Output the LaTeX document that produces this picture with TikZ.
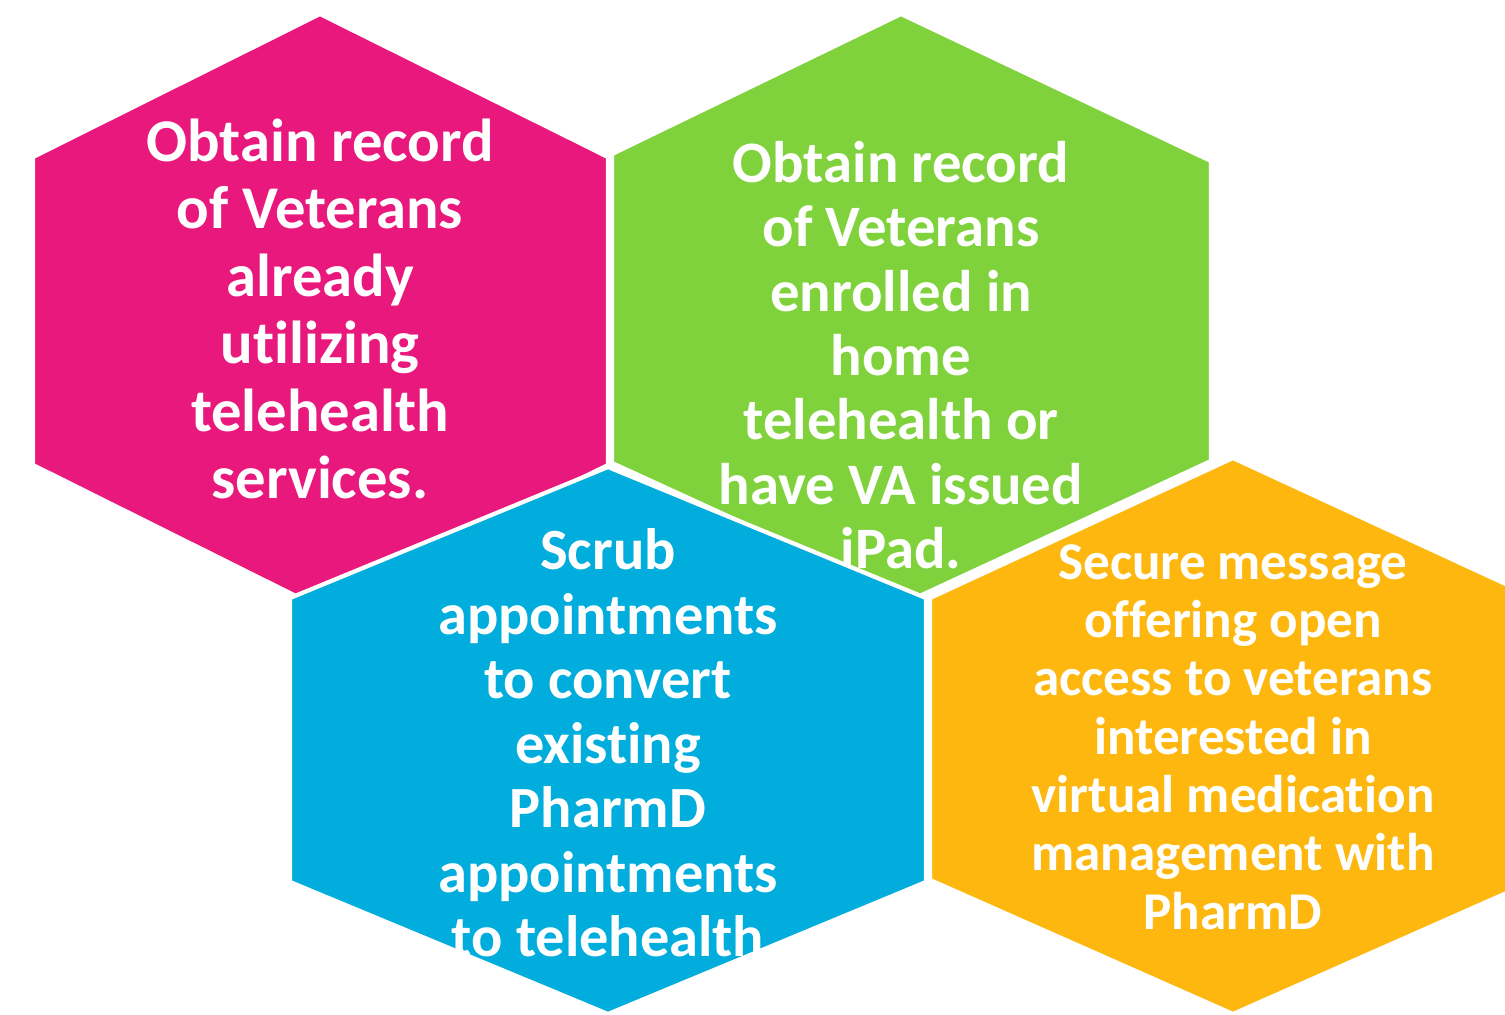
\documentclass[tikz,border=0pt]{standalone}
\usepackage{fontspec}
\setmainfont{Carlito}[Ligatures={NoCommon,NoContextual,NoRare,NoRequired},Contextuals=NoAlternate]
\usepackage{xcolor}
\usepackage{tikz}
\definecolor{hexpink}{RGB}{233,24,124}
\definecolor{hexgreen}{RGB}{128,210,60}
\definecolor{hexblue}{RGB}{0,173,220}
\definecolor{hexorange}{RGB}{253,183,14}

\begin{document}
\begin{tikzpicture}[x=0.01cm,y=-0.01cm,
    hexa/.style={draw=white,line width=1.2pt,line join=miter},
    hextext/.style={text=white,align=center,inner sep=0pt}]
                    \useasboundingbox (0,0) rectangle (1505,1014);
                    \clip (0,0) rectangle (1505,1014);
                    \filldraw[hexa,fill=hexpink] (320,14) -- (608,157) -- (608,465) -- (320,608) -- (33,465) -- (33,157) -- cycle;
                    \node[hextext,font=\bfseries\fontsize{17.25}{19.2}\selectfont] (utilizing) at (320,309) {Obtain record\\of Veterans\\already\\utilizing\\telehealth\\services.};
                    \filldraw[hexa,fill=hexgreen] (901,14) -- (1211,161) -- (1211,461) -- (911,600) -- (612,463) -- (612,154) -- cycle;
                    \node[hextext,font=\bfseries\fontsize{16.7}{18.3}\selectfont] (enrolled) at (901,355) {Obtain record\\of Veterans\\enrolled in\\home\\telehealth or\\have VA issued\\iPad.};
                    \filldraw[hexa,fill=hexblue] (608,467) -- (926,598) -- (926,882) -- (608,1014) -- (290,882) -- (290,598) -- cycle;
                    \node[hextext,font=\bfseries\fontsize{16.6}{18.35}\selectfont] (scrub) at (608,743) {Scrub\\appointments\\to convert\\existing\\PharmD\\appointments\\to telehealth};
                    \filldraw[hexa,fill=hexorange] (1233,458) -- (1536,598) -- (1536,880) -- (1233,1014) -- (930,880) -- (930,598) -- cycle;
                    \node[hextext,font=\bfseries\fontsize{15.1}{16.6}\selectfont] (secure) at (1233,737) {Secure message\\offering open\\access to veterans\\interested in\\virtual medication\\management with\\PharmD};

                \end{tikzpicture}
\end{document}
